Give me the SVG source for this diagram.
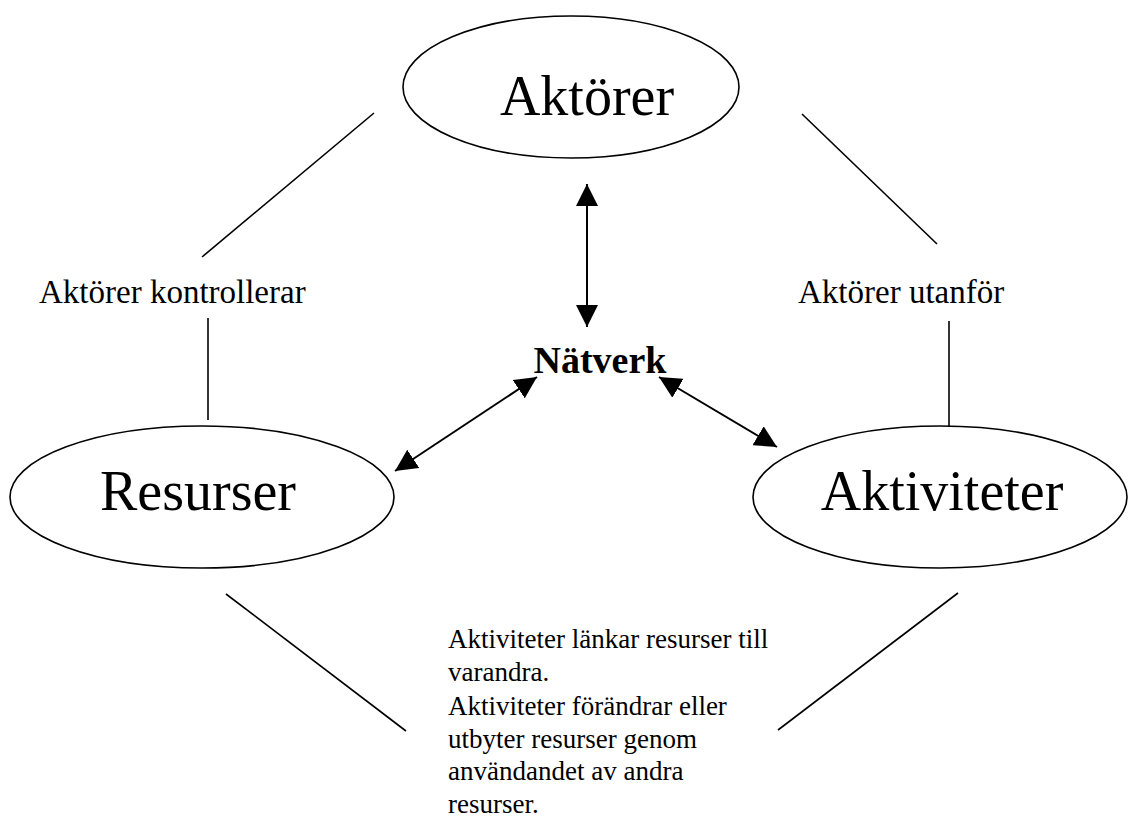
<svg xmlns="http://www.w3.org/2000/svg" width="1128" height="820" viewBox="0 0 1128 820">
<style>
.node ellipse{fill:#fff;stroke:#000;stroke-width:1.6}
.title{font-family:"Liberation Serif","DejaVu Serif",serif;font-size:56px;fill:#000;text-anchor:middle}
.lbl{font-family:"Liberation Serif","DejaVu Serif",serif;font-size:33px;fill:#000}
.para{font-family:"Liberation Serif","DejaVu Serif",serif;font-size:27px;fill:#000}
.center{font-family:"Liberation Serif","DejaVu Serif",serif;font-size:38px;font-weight:bold;fill:#000;text-anchor:middle}
.ln{stroke:#000;stroke-width:1.6;fill:none}
.arr{stroke:#000;stroke-width:2;fill:none;marker-start:url(#ah);marker-end:url(#ah)}
</style>
<defs>
<marker id="ah" markerUnits="userSpaceOnUse" markerWidth="22" markerHeight="22" refX="20" refY="10" orient="auto-start-reverse" viewBox="0 0 20 20">
<path d="M0,0 L20,10 L0,20 z" fill="#000"/>
</marker>
</defs>
<rect width="1128" height="820" fill="#fff"/>
<g id="connectors">
<line class="ln" x1="374" y1="113" x2="202" y2="257"/>
<line class="ln" x1="208" y1="318" x2="208" y2="420"/>
<line class="ln" x1="802" y1="114" x2="937" y2="244"/>
<line class="ln" x1="949" y1="321" x2="949" y2="439"/>
<line class="ln" x1="226" y1="594" x2="406" y2="731"/>
<line class="ln" x1="958" y1="593" x2="778" y2="730"/>
<line class="arr" x1="587" y1="184" x2="587" y2="327"/>
<line class="arr" x1="537" y1="377" x2="395" y2="471"/>
<line class="arr" x1="659" y1="377" x2="777" y2="447"/>
</g>
<g id="aktorer" class="node">
<ellipse cx="571" cy="87" rx="168" ry="71"/>
<text class="title" x="587" y="115">Aktörer</text>
</g>
<g id="resurser" class="node">
<ellipse cx="202" cy="497" rx="192" ry="71"/>
<text class="title" x="198" y="510">Resurser</text>
</g>
<g id="aktiviteter" class="node">
<ellipse cx="940" cy="497" rx="187" ry="71"/>
<text class="title" x="942" y="510">Aktiviteter</text>
</g>
<g id="natverk">
<text class="center" x="600" y="373">Nätverk</text>
</g>
<g id="labels">
<text class="lbl" x="39" y="303">Aktörer kontrollerar</text>
<text class="lbl" x="798" y="303">Aktörer utanför</text>
<text class="para" x="448" y="648">Aktiviteter länkar resurser till</text>
<text class="para" x="448" y="681">varandra.</text>
<text class="para" x="448" y="715">Aktiviteter förändrar eller</text>
<text class="para" x="448" y="748">utbyter resurser genom</text>
<text class="para" x="448" y="780">användandet av andra</text>
<text class="para" x="448" y="813">resurser.</text>
</g>
</svg>
